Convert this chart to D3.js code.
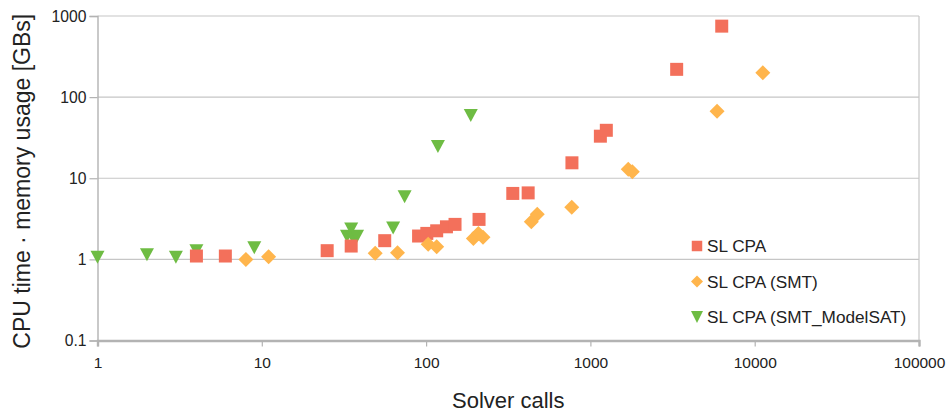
<!DOCTYPE html>
<html>
<head>
<meta charset="utf-8">
<script src="https://cdn.jsdelivr.net/npm/d3@7"></script>
<style>
  body { margin: 0; background: #fff; }
  svg { display: block; font-family: "Liberation Sans", Arial, sans-serif; }
</style>
</head>
<body>
<svg class="svg"></svg>
<script>
// series data (solver calls vs CPU time * memory)
const slCpaCalls = [4, 6, 25, 35, 56, 90, 101, 116, 133, 150, 210, 337, 418, 772, 1150, 1250, 3350, 6300];
const slCpaCost  = [1.10, 1.10, 1.28, 1.46, 1.70, 1.94, 2.09, 2.25, 2.52, 2.70, 3.11, 6.5, 6.6, 15.5, 33, 39, 220, 750];

const smtCalls = [8, 11, 49, 67, 103, 116, 194, 208, 222, 437, 475, 770, 1700, 1800, 5900, 11200];
const smtCost  = [1.0, 1.08, 1.19, 1.21, 1.54, 1.43, 1.81, 2.09, 1.87, 2.9, 3.6, 4.4, 12.9, 12.0, 67, 200];

const modelSatCalls = [1, 2, 3, 4, 9, 33, 35, 36, 38, 63, 74, 118, 187];
const modelSatCost  = [1.08, 1.16, 1.08, 1.30, 1.41, 1.95, 2.4, 1.85, 1.95, 2.48, 6.0, 25, 60];

const seriesNames = ["SL CPA", "SL CPA (SMT)", "SL CPA (SMT_ModelSAT)"];
const xTicks = [1, 10, 100, 1000, 10000, 100000];
const yTicks = [0.1, 1, 10, 100, 1000];

const metrics = { width: 947, height: 412, left: 97.5, right: 919, top: 16, bottom: 340.5 };

const svg = d3.select(".svg")
  .attr("width", metrics.width)
  .attr("height", metrics.height);

const x = d3.scaleLog().domain([1, 100000]).range([metrics.left, metrics.right]);
const y = d3.scaleLog().domain([0.1, 1000]).range([metrics.bottom, metrics.top]);

// grid lines
svg.append("g")
  .selectAll("line")
  .data(yTicks.slice(1))
  .join("line")
  .attr("x1", metrics.left).attr("x2", metrics.right)
  .attr("y1", d => y(d)).attr("y2", d => y(d))
  .attr("stroke", "#c6c6c6").attr("stroke-width", 1.2);

// right border
svg.append("line")
  .attr("x1", metrics.right).attr("x2", metrics.right)
  .attr("y1", metrics.top).attr("y2", metrics.bottom)
  .attr("stroke", "#c6c6c6").attr("stroke-width", 1.2);

// y axis
const yAxis = svg.append("g")
  .attr("transform", `translate(${metrics.left},0)`)
  .call(d3.axisLeft(y).tickValues(yTicks).tickFormat(d3.format("~g")).tickSize(8).tickPadding(3));
yAxis.select(".domain").attr("stroke", "#b3b3b3").attr("stroke-width", 1.4);
yAxis.selectAll(".tick line").attr("stroke", "#b3b3b3").attr("stroke-width", 1.2);
yAxis.selectAll(".tick text").attr("font-size", 15.7).attr("fill", "#222").attr("font-family", "Liberation Sans");

// x axis
const xAxis = svg.append("g")
  .attr("transform", `translate(0,${metrics.bottom})`)
  .call(d3.axisBottom(x).tickValues(xTicks).tickFormat(d3.format("d")).tickSize(6).tickPadding(10));
xAxis.select(".domain").attr("stroke", "#b3b3b3").attr("stroke-width", 2.4);
xAxis.selectAll(".tick line").attr("stroke", "#b3b3b3").attr("stroke-width", 1.2);
xAxis.selectAll(".tick text").attr("font-size", 15.5).attr("fill", "#222").attr("font-family", "Liberation Sans");

// axis titles
svg.append("text")
  .attr("x", (metrics.left + metrics.right) / 2)
  .attr("y", 408)
  .attr("text-anchor", "middle")
  .attr("font-size", 22)
  .attr("fill", "#222")
  .text("Solver calls");

svg.append("text")
  .attr("transform", `translate(30,${(metrics.top + metrics.bottom) / 2 + 3}) rotate(-90)`)
  .attr("text-anchor", "middle")
  .attr("font-size", 23)
  .attr("fill", "#222")
  .text("CPU time · memory usage [GBs]");

// marker shapes
const square = d3.symbol().type(d3.symbolSquare).size(169);
const diamond = "M0,-7.5L7.5,0L0,7.5L-7.5,0Z";
const triangle = "M-7,-6L7,-6L0,7Z";

const series = [
  { name: seriesNames[2], xs: modelSatCalls, ys: modelSatCost, color: "#6ebc43", path: triangle },
  { name: seriesNames[0], xs: slCpaCalls, ys: slCpaCost, color: "#f3705b", path: square() },
  { name: seriesNames[1], xs: smtCalls, ys: smtCost, color: "#ffb54c", path: diamond }
];

series.forEach(s => {
  svg.append("g")
    .selectAll("path")
    .data(d3.zip(s.xs, s.ys))
    .join("path")
    .attr("d", s.path)
    .attr("fill", s.color)
    .attr("transform", d => `translate(${x(d[0])},${y(d[1])})`);
});

// legend
const legendOrder = [series[1], series[2], series[0]];
const legend = svg.append("g").attr("transform", "translate(697,246)")
  .selectAll("g")
  .data(legendOrder)
  .join("g")
  .attr("transform", (d, i) => `translate(0,${i * 35.5})`);

legend.append("path")
  .attr("d", (d, i) => i === 0 ? d3.symbol().type(d3.symbolSquare).size(110)() : i === 1 ? "M0,-6L6,0L0,6L-6,0Z" : "M-6,-6L6,-6L0,6Z")
  .attr("fill", d => d.color);

legend.append("text")
  .attr("x", 10)
  .attr("dy", "0.35em")
  .attr("font-size", 17.2)
  .attr("fill", "#222")
  .text(d => d.name);
</script>
</body>
</html>
